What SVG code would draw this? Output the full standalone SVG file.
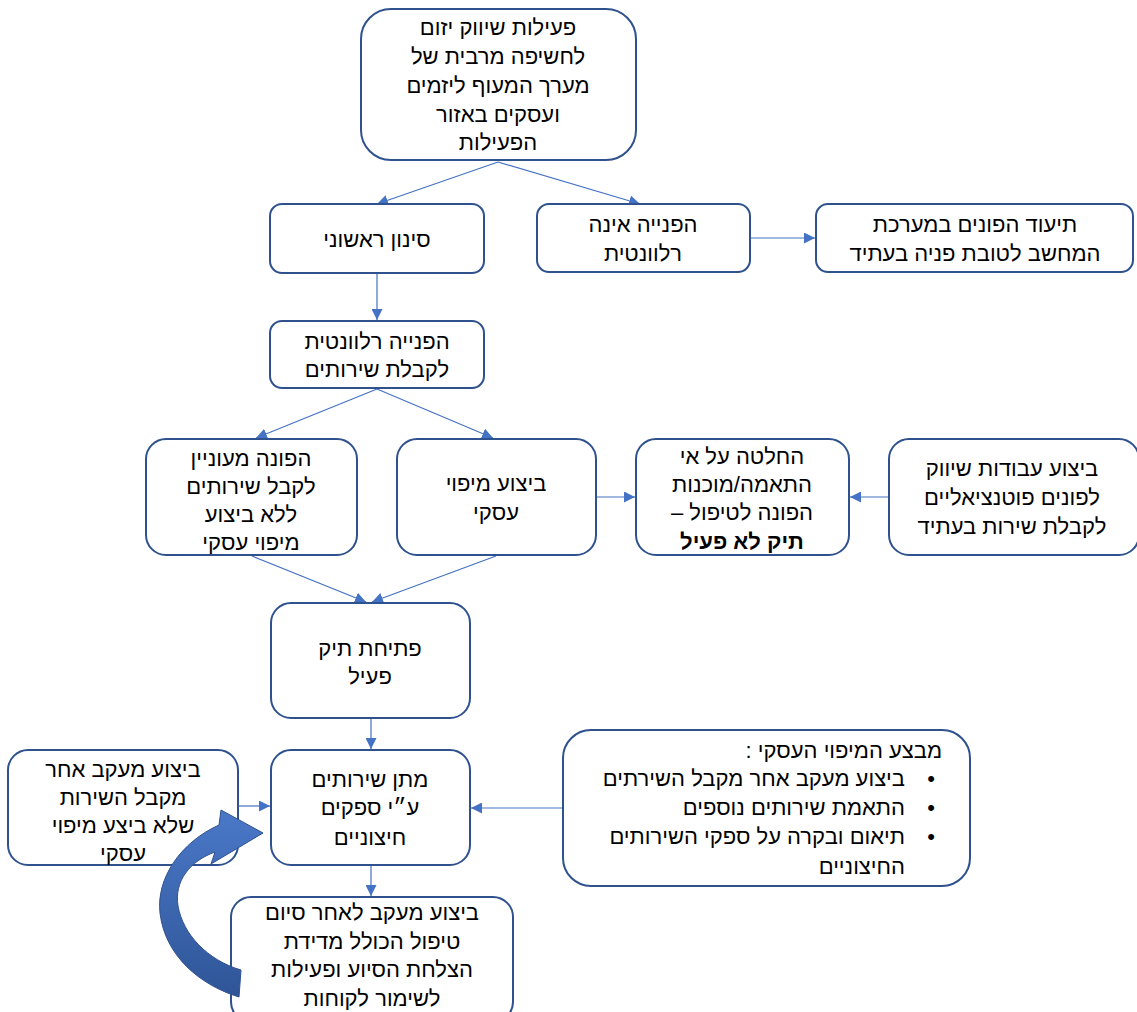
<svg xmlns="http://www.w3.org/2000/svg" width="1137" height="1012" viewBox="0 0 1137 1012">
<defs>
<style>
.box{fill:#fff;stroke:#2F528F;stroke-width:2}
.t{font-family:"Liberation Sans","DejaVu Sans",sans-serif;font-size:22px;fill:#000;text-anchor:middle}
.r{text-anchor:start}
.b{font-weight:bold}
.c{fill:none;stroke:#4472C4;stroke-width:1.2}
</style>
<marker id="ah" viewBox="0 0 10 10" refX="10" refY="5" markerWidth="11" markerHeight="11" markerUnits="userSpaceOnUse" orient="auto">
<path d="M0,0 L10,5 L0,10 z" fill="#4472C4"/>
</marker>
<linearGradient id="ag" x1="0" y1="0" x2="0" y2="1">
<stop offset="0" stop-color="#4A78C8"/>
<stop offset="1" stop-color="#2F5597"/>
</linearGradient>
</defs>
<rect width="1137" height="1012" fill="#fff"/>
<g id="connectors">
<line class="c" x1="498" y1="162" x2="377" y2="204" marker-end="url(#ah)"/>
<line class="c" x1="498" y1="162" x2="640" y2="204" marker-end="url(#ah)"/>
<line class="c" x1="751" y1="238" x2="815" y2="238" marker-end="url(#ah)"/>
<line class="c" x1="377" y1="274" x2="377" y2="320" marker-end="url(#ah)"/>
<line class="c" x1="377" y1="389" x2="256" y2="438" marker-end="url(#ah)"/>
<line class="c" x1="377" y1="389" x2="493" y2="438" marker-end="url(#ah)"/>
<line class="c" x1="252" y1="556" x2="366" y2="602" marker-end="url(#ah)"/>
<line class="c" x1="496" y1="556" x2="372" y2="602" marker-end="url(#ah)"/>
<line class="c" x1="597" y1="497" x2="635" y2="497" marker-end="url(#ah)"/>
<line class="c" x1="888" y1="497" x2="850" y2="497" marker-end="url(#ah)"/>
<line class="c" x1="371" y1="719" x2="371" y2="749" marker-end="url(#ah)"/>
<line class="c" x1="562" y1="808" x2="471" y2="808" marker-end="url(#ah)"/>
<line class="c" x1="239" y1="806" x2="270" y2="806" marker-end="url(#ah)"/>
<line class="c" x1="371" y1="866" x2="371" y2="896" marker-end="url(#ah)"/>
</g>
<g id="nodeA"><rect class="box" x="361" y="9" width="275" height="151" rx="30"/>
<text class="t" direction="rtl" x="498" y="35">פעילות שיווק יזום</text>
<text class="t" direction="rtl" x="498" y="64">לחשיפה מרבית של</text>
<text class="t" direction="rtl" x="498" y="93">מערך המעוף ליזמים</text>
<text class="t" direction="rtl" x="498" y="122">ועסקים באזור</text>
<text class="t" direction="rtl" x="498" y="150">הפעילות</text></g>
<g id="nodeB"><rect class="box" x="270" y="204" width="214" height="69" rx="12"/>
<text class="t" direction="rtl" x="377" y="247">סינון ראשוני</text></g>
<g id="nodeC"><rect class="box" x="537" y="204" width="213" height="68" rx="12"/>
<text class="t" direction="rtl" x="643" y="232">הפנייה אינה</text>
<text class="t" direction="rtl" x="643" y="261">רלוונטית</text></g>
<g id="nodeD"><rect class="box" x="816" y="204" width="317" height="68" rx="12"/>
<text class="t" direction="rtl" x="975" y="232">תיעוד הפונים במערכת</text>
<text class="t" direction="rtl" x="975" y="261">המחשב לטובת פניה בעתיד</text></g>
<g id="nodeE"><rect class="box" x="270" y="321" width="214" height="67" rx="12"/>
<text class="t" direction="rtl" x="377" y="349">הפנייה רלוונטית</text>
<text class="t" direction="rtl" x="377" y="377">לקבלת שירותים</text></g>
<g id="nodeF"><rect class="box" x="146" y="439" width="211" height="116" rx="20"/>
<text class="t" direction="rtl" x="251" y="466">הפונה מעוניין</text>
<text class="t" direction="rtl" x="251" y="494">לקבל שירותים</text>
<text class="t" direction="rtl" x="251" y="522">ללא ביצוע</text>
<text class="t" direction="rtl" x="251" y="550">מיפוי עסקי</text></g>
<g id="nodeG"><rect class="box" x="397" y="439" width="199" height="116" rx="20"/>
<text class="t" direction="rtl" x="496" y="491">ביצוע מיפוי</text>
<text class="t" direction="rtl" x="496" y="520">עסקי</text></g>
<g id="nodeH"><rect class="box" x="636" y="439" width="213" height="116" rx="20"/>
<text class="t" direction="rtl" x="742" y="464">החלטה על אי</text>
<text class="t" direction="rtl" x="742" y="492">התאמה/מוכנות</text>
<text class="t" direction="rtl" x="742" y="520">הפונה לטיפול –</text>
<text class="t b" direction="rtl" x="742" y="549">תיק לא פעיל</text></g>
<g id="nodeI"><rect class="box" x="889" y="439" width="250" height="116" rx="20"/>
<text class="t" direction="rtl" x="1012" y="476">ביצוע עבודות שיווק</text>
<text class="t" direction="rtl" x="1012" y="505">לפונים פוטנציאליים</text>
<text class="t" direction="rtl" x="1012" y="534">לקבלת שירות בעתיד</text></g>
<g id="nodeJ"><rect class="box" x="271" y="603" width="199" height="115" rx="20"/>
<text class="t" direction="rtl" x="370" y="656">פתיחת תיק</text>
<text class="t" direction="rtl" x="370" y="684">פעיל</text></g>
<g id="nodeK"><rect class="box" x="271" y="750" width="199" height="115" rx="20"/>
<text class="t" direction="rtl" x="370" y="787">מתן שירותים</text>
<text class="t" direction="rtl" x="370" y="815">ע״י ספקים</text>
<text class="t" direction="rtl" x="370" y="845">חיצוניים</text></g>
<g id="nodeL"><rect class="box" x="563" y="730" width="407" height="156" rx="28"/>
<text class="t r" direction="rtl" x="942" y="758">מבצע המיפוי העסקי :</text>
<text class="t" x="931" y="786">•</text>
<text class="t r" direction="rtl" x="905" y="786">ביצוע מעקב אחר מקבל השירתים</text>
<text class="t" x="931" y="815">•</text>
<text class="t r" direction="rtl" x="905" y="815">התאמת שירותים נוספים</text>
<text class="t" x="931" y="844">•</text>
<text class="t r" direction="rtl" x="905" y="844">תיאום ובקרה על ספקי השירותים</text>
<text class="t r" direction="rtl" x="905" y="874">החיצוניים</text></g>
<g id="nodeM"><rect class="box" x="8" y="750" width="230" height="115" rx="20"/>
<text class="t" direction="rtl" x="123" y="777">ביצוע מעקב אחר</text>
<text class="t" direction="rtl" x="123" y="805">מקבל השירות</text>
<text class="t" direction="rtl" x="123" y="833">שלא ביצע מיפוי</text>
<text class="t" direction="rtl" x="123" y="861">עסקי</text></g>
<g id="nodeN"><rect class="box" x="231" y="897" width="282" height="125" rx="20"/>
<text class="t" direction="rtl" x="372" y="920">ביצוע מעקב לאחר סיום</text>
<text class="t" direction="rtl" x="372" y="949">טיפול הכולל מדידת</text>
<text class="t" direction="rtl" x="372" y="977">הצלחת הסיוע ופעילות</text>
<text class="t" direction="rtl" x="372" y="1006">לשימור לקוחות</text></g>
<g id="curvedArrow">
<path d="M263,833 L221,810 L219,825 C181,842 156,878 160,913 C165,956 200,985 239,997 L241,970 C207,960 183,934 178,906 C174,881 190,861 215,852 L211,864 Z" fill="url(#ag)" stroke="#2F528F" stroke-width="1"/>
</g>
</svg>
